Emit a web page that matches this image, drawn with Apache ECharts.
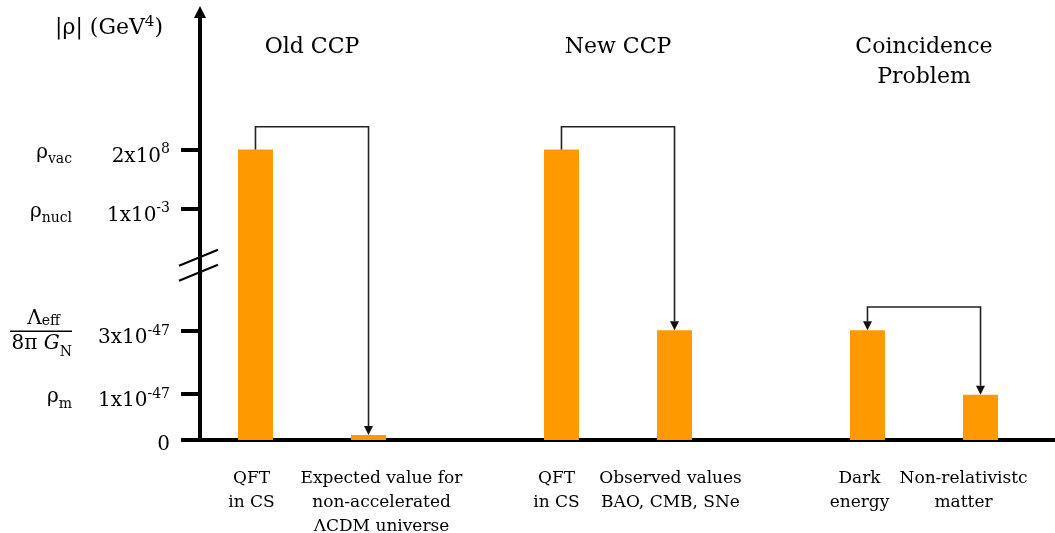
<!DOCTYPE html>
<html><head><meta charset="utf-8">
<script src="https://cdn.jsdelivr.net/npm/echarts@6/dist/echarts.min.js"></script>
<style>html,body{margin:0;padding:0;background:#fff}#c{width:1055px;height:533px}</style>
</head><body><div id="c"></div>
<script>
// ---------- data ----------
const groupTitles = ['Old CCP', 'New CCP', 'Coincidence\nProblem'];
const leftBarNames = ['QFT\nin CS', 'QFT\nin CS', 'Dark\nenergy'];
const rightBarNames = ['Expected value for\nnon-accelerated\nΛCDM universe', 'Observed values\nBAO, CMB, SNe', 'Non-relativistc\nmatter'];
// bar heights on the schematic (broken) axis
const leftBarLevels = [5.77, 5.77, 2.18];
const rightBarLevels = [0.1, 2.18, 0.9];
// level of the connecting arrows
const bracketLevels = [6.22, 6.22, 2.64];
const bracketBothEnds = [false, false, true];
// axis ticks on the schematic scale
const tickLevels = [0, 0.91, 2.16, 4.6, 5.77];
const tickValueLabels = ['0', '1x10^-47', '3x10^-47', '1x10^-3', '2x10^8'];
const tickSymbolLabels = ['', 'ρ_m', 'Λ_eff / 8π G_N', 'ρ_nucl', 'ρ_vac'];
const axisBreakLevel = 3.47;
const yMax = 8.5;

// ---------- layout / style ----------
const FONT = 'DejaVu Serif';
const ORANGE = '#FF9900';
const barWidth = 35;
const barGapRatio = 2.23;
const barOffset = (barWidth + barWidth * barGapRatio) / 2;
const leftLabelDx = [-4, -5, -8];
const rightLabelDx = [13, -4, -17];
const gridTop = 12, gridBottom = 93;

function idxOf(v) {
  let best = 0;
  tickLevels.forEach((t, i) => { if (Math.abs(t - v) < Math.abs(tickLevels[best] - v)) best = i; });
  return best;
}
function valueRich(s) {
  const parts = s.split('^');
  return parts[1] ? `{n|${parts[0]}}{sup|${parts[1]}}` : `{n|${parts[0]}}`;
}
function symbolRich(s) {
  if (!s) return '';
  if (s.indexOf('/') >= 0) {
    const [num, den] = s.split('/').map(t => t.trim());
    const [nb, ns] = num.split('_');
    const [db, ds] = den.split('_');
    const k = db.lastIndexOf(' ');
    const up = db.slice(0, k + 1), it = db.slice(k + 1);
    return `{fn|${nb}}{fns|${ns}}{fsp| }\n{fbar| }\n{fd|${up}}{fdi|${it}}{fds|${ds}}`;
  }
  const [b, sub] = s.split('_');
  return `{sym|${b}}{symsub|${sub}}`;
}

const chart = echarts.init(document.getElementById('c'), null, {renderer: 'canvas'});

const option = {
  animation: false,
  backgroundColor: '#fff',
  textStyle: {fontFamily: FONT, color: '#000'},
  grid: [
    {left: 159, right: -22, top: gridTop, bottom: gridBottom, outerBoundsMode: 'none', containLabel: false},
    {left: 200, right: 0, top: gridTop, bottom: gridBottom, outerBoundsMode: 'none', containLabel: false}
  ],
  xAxis: [
    {
      type: 'category', gridIndex: 0, data: groupTitles, position: 'top',
      axisLine: {show: false}, axisTick: {show: false}, splitLine: {show: false},
      axisLabel: {inside: true, margin: 20, interval: 0, verticalAlign: 'top',
        fontFamily: FONT, fontSize: 22, lineHeight: 30, color: '#000'}
    },
    {
      type: 'value', gridIndex: 1, min: 0, max: 1,
      axisLine: {show: true, onZero: true, lineStyle: {color: '#000', width: 4}},
      axisTick: {show: false}, axisLabel: {show: false}, splitLine: {show: false}
    }
  ],
  yAxis: [
    {
      type: 'value', gridIndex: 0, min: 0, max: yMax, position: 'left',
      axisLine: {show: false}, axisTick: {show: false}, splitLine: {show: false},
      axisLabel: {
        customValues: tickLevels, margin: 87, padding: [10, 0, 0, 0],
        formatter: v => symbolRich(tickSymbolLabels[idxOf(v)]),
        rich: {
          sym: {fontFamily: FONT, fontSize: 20, color: '#000', verticalAlign: 'bottom', padding: [0, 0, 4, 0]},
          symsub: {fontFamily: FONT, fontSize: 14, color: '#000', verticalAlign: 'bottom'},
          fn: {fontFamily: FONT, fontSize: 20, color: '#000', verticalAlign: 'bottom'},
          fns: {fontFamily: FONT, fontSize: 14, color: '#000', verticalAlign: 'bottom'},
          fsp: {fontFamily: FONT, fontSize: 14, width: 12},
          fbar: {fontSize: 4, width: 62, height: 1.6, lineHeight: 5, backgroundColor: '#000', verticalAlign: 'middle'},
          fd: {fontFamily: FONT, fontSize: 20, color: '#000', verticalAlign: 'bottom', padding: [0, 0, 10, 0]},
          fdi: {fontFamily: FONT, fontSize: 20, fontStyle: 'italic', color: '#000', verticalAlign: 'bottom', padding: [0, 0, 10, 0]},
          fds: {fontFamily: FONT, fontSize: 14, color: '#000', verticalAlign: 'bottom', padding: [0, 0, 4, 0]}
        }
      }
    },
    {
      type: 'value', gridIndex: 1, min: 0, max: yMax, position: 'left',
      name: '{nm||ρ| (GeV}{nsup|4}{nm|)}', nameLocation: 'end', nameGap: -15, nameMoveOverlap: false,
      nameTextStyle: {
        align: 'right', verticalAlign: 'middle', padding: [0, 37, 0, 0],
        rich: {
          nm: {fontFamily: FONT, fontSize: 22, color: '#000', verticalAlign: 'bottom'},
          nsup: {fontFamily: FONT, fontSize: 15, color: '#000', verticalAlign: 'bottom', padding: [0, 0, 10, 0]}
        }
      },
      axisLine: {show: true, onZero: true, symbol: ['none', 'triangle'], symbolSize: [12, 12],
        lineStyle: {color: '#000', width: 4}},
      axisTick: {show: true, customValues: tickLevels, length: 19, lineStyle: {color: '#000', width: 4}},
      splitLine: {show: false},
      axisLabel: {
        customValues: tickLevels, margin: 30, padding: [10, 0, 0, 0],
        formatter: v => valueRich(tickValueLabels[idxOf(v)]),
        rich: {
          n: {fontFamily: FONT, fontSize: 20, color: '#000', verticalAlign: 'bottom'},
          sup: {fontFamily: FONT, fontSize: 14, color: '#000', verticalAlign: 'bottom', padding: [0, 0, 10, 0]}
        }
      }
    }
  ],
  series: [
    {
      type: 'bar', xAxisIndex: 0, yAxisIndex: 0, barWidth: barWidth, barGap: (barGapRatio * 100) + '%',
      itemStyle: {color: ORANGE},
      data: leftBarLevels.map((v, i) => ({value: v, label: {offset: [leftLabelDx[i], 0]}})),
      label: {show: true, position: 'bottom', distance: 27, formatter: p => leftBarNames[p.dataIndex],
        fontFamily: FONT, fontSize: 17, lineHeight: 24, color: '#000', align: 'center'}
    },
    {
      type: 'bar', xAxisIndex: 0, yAxisIndex: 0, barWidth: barWidth,
      itemStyle: {color: ORANGE},
      data: rightBarLevels.map((v, i) => ({value: v, label: {offset: [rightLabelDx[i], 0]}})),
      label: {show: true, position: 'bottom', distance: 27, formatter: p => rightBarNames[p.dataIndex],
        fontFamily: FONT, fontSize: 17, lineHeight: 24, color: '#000', align: 'center'}
    },
    {
      type: 'custom', xAxisIndex: 0, yAxisIndex: 0, z: 4, clip: false, silent: true,
      data: groupTitles.map((_, i) => [i, leftBarLevels[i], rightBarLevels[i], bracketLevels[i], bracketBothEnds[i] ? 1 : 0]),
      renderItem(params, api) {
        const i = api.value(0);
        const c0 = api.coord([i, 0]);
        const xL = c0[0] - barOffset, xR = c0[0] + barOffset;
        const yL = api.coord([i, api.value(1)])[1];
        const yR = api.coord([i, api.value(2)])[1];
        const yB = api.coord([i, api.value(3)])[1];
        const both = api.value(4) === 1;
        const ah = 9, aw = 9;
        const pts = [[xL, both ? yL - ah : yL], [xL, yB], [xR, yB], [xR, yR - ah]];
        const head = (x, y) => ({type: 'polygon', shape: {points: [[x - aw / 2, y - ah], [x + aw / 2, y - ah], [x, y]]}, style: {fill: '#111'}});
        const children = [{type: 'polyline', shape: {points: pts}, style: {stroke: '#222', lineWidth: 1.6, fill: null}}, head(xR, yR)];
        if (both) children.push(head(xL, yL));
        return {type: 'group', children};
      }
    },
    {
      type: 'custom', xAxisIndex: 1, yAxisIndex: 1, z: 5, clip: false, silent: true,
      data: [[0, axisBreakLevel]],
      renderItem(params, api) {
        const p = api.coord([api.value(0), api.value(1)]);
        const mk = dy => ({type: 'line', shape: {x1: p[0] - 21, y1: p[1] + dy + 8, x2: p[0] + 18, y2: p[1] + dy - 8},
          style: {stroke: '#000', lineWidth: 2}});
        return {type: 'group', children: [mk(-7.5), mk(7.5)]};
      }
    }
  ]
};
chart.setOption(option);
</script>
</body></html>
